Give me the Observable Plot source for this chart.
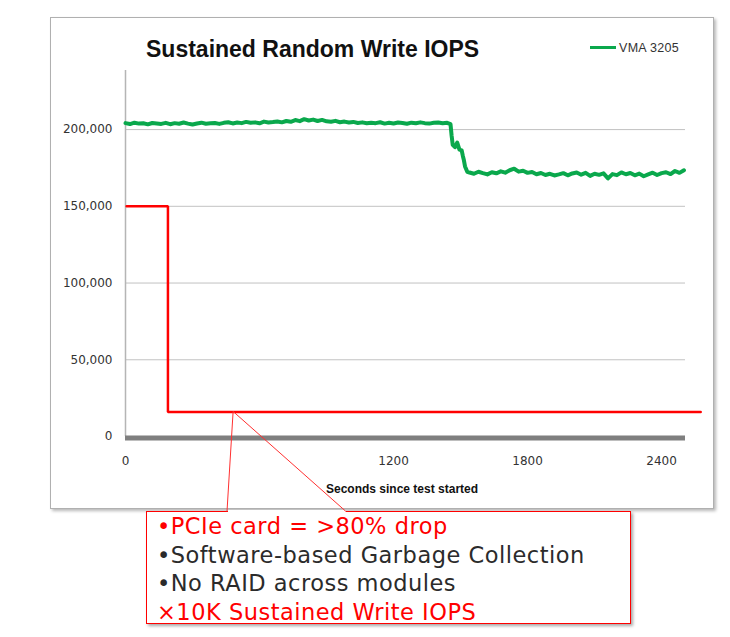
<!DOCTYPE html>
<html>
<head>
<meta charset="utf-8">
<script src="https://cdn.jsdelivr.net/npm/d3@7"></script>
<script src="https://cdn.jsdelivr.net/npm/@observablehq/plot@0.6"></script>
<style>
  html, body { margin: 0; padding: 0; background: #fff; }
  #wrap { position: relative; width: 730px; height: 637px; overflow: hidden; }
  .abs { position: absolute; }
  #frame { left: 50px; top: 17px; width: 662px; height: 490px; border: 1px solid #b0b0b0;
           box-shadow: 2px 2px 3px rgba(0,0,0,0.28); background: #fff; }
  #title { left: 146px; top: 34px; font: bold 23px "Liberation Sans", Arial, sans-serif; color: #111; white-space: nowrap; line-height: 30px; }
  #legline { left: 590px; top: 46px; width: 26px; height: 3px; background: #0aa84c; }
  #legtext { left: 619px; top: 40px; font: 12.5px "Liberation Sans", Arial, sans-serif; color: #333; line-height: 16px; white-space: nowrap; letter-spacing: 0.3px; }
  #xlabel { left: 326px; top: 481px; font: bold 12px "Liberation Sans", Arial, sans-serif; color: #111; line-height: 16px; white-space: nowrap; }
  #callout { left: 146px; top: 511px; width: 483px; height: 111px; border: 1px solid #ff0000;
             box-shadow: 2px 2px 3px rgba(0,0,0,0.35); background: #fff; }
  #callout div { position: absolute; left: 10px; font: 22.5px "DejaVu Sans", Verdana, sans-serif; letter-spacing: 0.5px; line-height: 28px; white-space: nowrap; }
  #gap { background: #fff; height: 3px; }
</style>
</head>
<body>
<div id="wrap">
  <div id="frame" class="abs"></div>
  <div id="plot" class="abs" style="left:0;top:0"></div>
  <div id="title" class="abs"></div>
  <div id="legline" class="abs"></div>
  <div id="legtext" class="abs"></div>
  <div id="xlabel" class="abs"></div>
  <div id="callout" class="abs"></div>
  <div id="gap" class="abs"></div>
</div>
<script>
// ---- Text ----
const titleText = "Sustained Random Write IOPS";
const seriesName = "VMA 3205";
const xAxisLabel = "Seconds since test started";
const calloutLines = [
  "•PCIe card = >80% drop",
  "•Software-based Garbage Collection",
  "•No RAID across modules",
  "×10K Sustained Write IOPS"
];
const calloutColors = ["#ff0000", "#2b2b2b", "#2b2b2b", "#ff0000"];

// ---- Axis ticks ----
const xTicks = [0, 1200, 1800, 2400];
const yTicks = [0, 50000, 100000, 150000, 200000];
const yGrid = [50000, 100000, 150000, 200000];
const xMax = 2507;
const yMax = 238500;

// ---- Green series (VMA 3205), sampled every 20 s before and after the drop ----
const greenStep = 20;
const greenBeforeStart = 0;
const greenBefore = [
  204200, 203600, 204500, 203900, 204100, 203400, 204300, 204000, 203700, 204400,
  203500, 204200, 203800, 204600, 203900, 203300, 204000, 204500, 203800, 204100,
  204300, 203700, 204400, 204800, 204000, 204600, 204200, 205000, 204400, 204700,
  204100, 205200, 204600, 204900, 205300, 204700, 205600, 205100, 206200, 205500,
  206800, 205900, 206500, 205600, 206300, 205400, 205100, 205700, 204800, 205200,
  204600, 205000, 204300, 204700, 204100, 204500, 204200, 204800, 203900, 204400,
  204000, 204600, 204300, 203800, 204500, 204100, 204700, 204200, 203900, 204400,
  204600, 204100, 204400
];
const dropTimes  = [1455, 1460, 1465, 1475, 1485, 1495, 1505, 1510, 1515, 1520, 1530];
const dropValues = [203500, 196000, 190000, 188500, 191500, 187000, 186500, 183000, 180000, 176000, 172500];
const greenAfterStart = 1540;
const greenAfter = [
  172000, 171200, 172500, 171600, 170800, 172200, 171500, 172800, 171900, 173500,
  174500, 172600, 173200, 171800, 172400, 170900, 171700, 170400, 171200, 170100,
  170800, 171600, 170200, 171400, 172000, 170600, 171800, 169800, 171200, 170500,
  171500, 168200, 171000, 170300, 172100, 170900, 171700, 170200, 171300, 169600,
  170800, 171900, 170400, 171600, 172200, 171000, 173000, 171800, 173500
];

// ---- Red series (PCIe card) ----
const redTimes  = [5, 190, 190, 2575];
const redValues = [150000, 150000, 16000, 16000];

// callout anchor on the red line
const anchorT = 484;
const anchorV = 16000;

// ---- build tables ----
const green = [
  ...greenBefore.map((v, i) => ({t: greenBeforeStart + i * greenStep, v})),
  ...dropTimes.map((t, i) => ({t, v: dropValues[i]})),
  ...greenAfter.map((v, i) => ({t: greenAfterStart + i * greenStep, v}))
];
const red = redTimes.map((t, i) => ({t, v: redValues[i]}));

const chart = Plot.plot({
  width: 730,
  height: 637,
  marginLeft: 125,
  marginRight: 45,
  marginTop: 70,
  marginBottom: 201,
  style: {background: "transparent", fontFamily: "DejaVu Sans, Verdana, sans-serif", fontSize: "12px", color: "#333"},
  x: {domain: [0, xMax], ticks: xTicks, tickSize: 0, tickPadding: 20, tickFormat: d => String(d), label: null},
  y: {domain: [0, yMax], ticks: yTicks, tickSize: 0, tickPadding: 13, tickFormat: d3.format(","), label: null},
  marks: [
    Plot.ruleY(yGrid, {stroke: "#c2c2c2", strokeWidth: 1}),
    Plot.ruleX([0], {stroke: "#b5b5b5", strokeWidth: 1.5}),
    Plot.ruleY([0], {stroke: "#7f7f7f", strokeWidth: 5, dy: 1.5}),
    Plot.line(green, {x: "t", y: "v", stroke: "#0aa84c", strokeWidth: 4}),
    Plot.line(red, {x: "t", y: "v", stroke: "#ff0000", strokeWidth: 2.5, strokeLinejoin: "miter"})
  ]
});
document.getElementById("plot").appendChild(chart);

document.getElementById("title").textContent = titleText;
document.getElementById("legtext").textContent = seriesName;
document.getElementById("xlabel").textContent = xAxisLabel;

const callout = document.getElementById("callout");
calloutLines.forEach((s, i) => {
  const d = document.createElement("div");
  d.textContent = s;
  d.style.top = (i * 28.5) + "px";
  d.style.color = calloutColors[i];
  callout.appendChild(d);
});

// pointer from callout to the red line
const ax = chart.scale("x").apply(anchorT);
const ay = chart.scale("y").apply(anchorV);
const boxTop = 511;
const leftBase = 227, rightBase = 346;
const gap = document.getElementById("gap");
gap.style.left = (leftBase + 1) + "px";
gap.style.top = (boxTop - 1) + "px";
gap.style.width = (rightBase - leftBase - 1) + "px";

const svg = d3.select("#wrap").append("svg")
  .attr("class", "abs").attr("width", 730).attr("height", 637)
  .style("left", "0px").style("top", "0px").style("pointer-events", "none");
svg.append("path")
  .attr("d", `M${leftBase},${boxTop + 0.5}L${ax},${ay}L${rightBase},${boxTop + 0.5}`)
  .attr("fill", "none").attr("stroke", "#ff3030").attr("stroke-width", 1);
</script>
</body>
</html>
